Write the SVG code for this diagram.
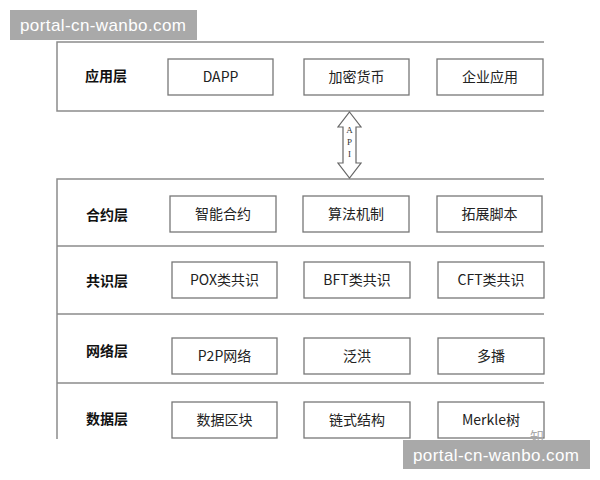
<svg xmlns="http://www.w3.org/2000/svg" width="600" height="480" viewBox="0 0 600 480">
<style>
.frame{stroke:#8c8c8c;stroke-width:1.5;fill:none}
.box{fill:#fff;stroke:#777;stroke-width:1.3}
.t{font-family:"Noto Sans CJK SC","Liberation Sans",sans-serif;font-size:14px;fill:#222;text-anchor:middle}
.lbl{font-family:"Noto Sans CJK SC","Liberation Sans",sans-serif;font-size:14px;font-weight:bold;fill:#111;text-anchor:middle}
.api{font-family:"Liberation Serif",serif;font-size:9px;fill:#333;text-anchor:middle}
.wm{fill:#a9a9a9}
.wmt{font-family:"Liberation Sans",sans-serif;font-size:17px;fill:#fff}
</style>
<rect width="600" height="480" fill="#fff"/>
<g id="frames">
<path class="frame" d="M544 42H57V111H544"/>
<path class="frame" d="M544 179H57V439M57 246H544M57 314H544M57 383H544"/>
</g>
<g id="connectors">
<polygon points="349.5,112 361,127 356,127 356,163 361,163 349.5,178 338,163 343,163 343,127 338,127" fill="#fff" stroke="#666" stroke-width="1.2"/>
<text class="api" x="349.5" y="133">A</text>
<text class="api" x="349.5" y="145">P</text>
<text class="api" x="349.5" y="157">I</text>
</g>
<g id="layer-app">
<text class="lbl" x="106" y="81">应用层</text>
<g id="n-dapp"><rect class="box" x="168" y="59" width="105" height="36"/><text class="t" x="220.5" y="82">DAPP</text></g>
<g id="n-crypto"><rect class="box" x="304" y="59" width="105" height="36"/><text class="t" x="356.5" y="82">加密货币</text></g>
<g id="n-enterprise"><rect class="box" x="437" y="59" width="106" height="36"/><text class="t" x="490" y="82">企业应用</text></g>
</g>
<g id="layer-contract">
<text class="lbl" x="107" y="220">合约层</text>
<g id="n-smart"><rect class="box" x="170" y="196" width="106" height="36"/><text class="t" x="223" y="219">智能合约</text></g>
<g id="n-algo"><rect class="box" x="303" y="196" width="106" height="36"/><text class="t" x="356" y="219">算法机制</text></g>
<g id="n-script"><rect class="box" x="437" y="196" width="105" height="36"/><text class="t" x="489.5" y="219">拓展脚本</text></g>
</g>
<g id="layer-consensus">
<text class="lbl" x="107" y="286">共识层</text>
<g id="n-pox"><rect class="box" x="172" y="262" width="105" height="36"/><text class="t" x="224.5" y="285">POX类共识</text></g>
<g id="n-bft"><rect class="box" x="304" y="262" width="106" height="36"/><text class="t" x="357" y="285">BFT类共识</text></g>
<g id="n-cft"><rect class="box" x="438" y="262" width="106" height="36"/><text class="t" x="491" y="285">CFT类共识</text></g>
</g>
<g id="layer-network">
<text class="lbl" x="107" y="356">网络层</text>
<g id="n-p2p"><rect class="box" x="172" y="338" width="105" height="36"/><text class="t" x="224.5" y="361">P2P网络</text></g>
<g id="n-flood"><rect class="box" x="304" y="338" width="106" height="36"/><text class="t" x="357" y="361">泛洪</text></g>
<g id="n-multicast"><rect class="box" x="438" y="338" width="106" height="36"/><text class="t" x="491" y="361">多播</text></g>
</g>
<g id="layer-data">
<text class="lbl" x="107" y="424">数据层</text>
<g id="n-block"><rect class="box" x="172" y="402" width="105" height="36"/><text class="t" x="224.5" y="425">数据区块</text></g>
<g id="n-chain"><rect class="box" x="304" y="402" width="106" height="36"/><text class="t" x="357" y="425">链式结构</text></g>
<g id="n-merkle"><rect class="box" x="438" y="402" width="106" height="36"/><text class="t" x="491" y="425">Merkle树</text></g>
</g>
<g id="watermarks">
<text x="530" y="442" font-family="Noto Sans CJK SC,sans-serif" font-size="14" fill="#aaa">知</text>
<rect class="wm" x="10" y="10" width="187" height="30"/>
<text class="wmt" x="20" y="31" textLength="166">portal-cn-wanbo.com</text>
<rect class="wm" x="403" y="440" width="187" height="29"/>
<text class="wmt" x="413" y="461" textLength="166">portal-cn-wanbo.com</text>
</g>
</svg>
